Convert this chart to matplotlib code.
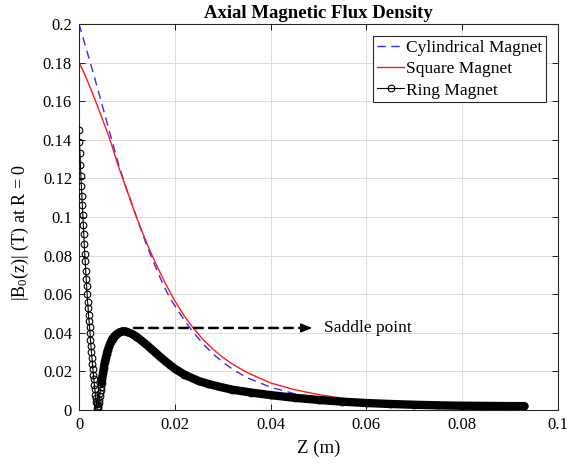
import numpy as np
import matplotlib
matplotlib.use("Agg")
import matplotlib.pyplot as plt

plt.rcParams['font.family'] = ['Liberation Serif', 'DejaVu Serif']
plt.rcParams['mathtext.fontset'] = 'custom'
plt.rcParams['mathtext.rm'] = 'Liberation Serif'
plt.rcParams['mathtext.it'] = 'Liberation Serif:italic'

# Cylindrical magnet
cyl_z = [0.000, 0.001, 0.002, 0.003, 0.004, 0.005, 0.006, 0.007, 0.008, 0.009,
         0.010, 0.011, 0.012, 0.013, 0.014, 0.015, 0.016, 0.017, 0.018, 0.019,
         0.020, 0.022, 0.024, 0.026, 0.028, 0.030, 0.032, 0.035, 0.040, 0.045,
         0.050, 0.055, 0.060, 0.065, 0.070, 0.080, 0.093]
cyl_b = [0.2000, 0.1915, 0.1830, 0.1745, 0.1655, 0.1565, 0.1475, 0.1385, 0.1295, 0.1215,
         0.1140, 0.1070, 0.1000, 0.0930, 0.0862, 0.0800, 0.0740, 0.0682, 0.0628, 0.0580,
         0.0540, 0.0465, 0.0398, 0.0340, 0.0290, 0.0248, 0.0212, 0.0168, 0.0118, 0.0084,
         0.0060, 0.0044, 0.0033, 0.0027, 0.0023, 0.0019, 0.0016]

# Square magnet
sq_z = [0.000, 0.001, 0.002, 0.003, 0.004, 0.005, 0.006, 0.007, 0.008, 0.009,
        0.010, 0.011, 0.012, 0.013, 0.014, 0.015, 0.016, 0.017, 0.018, 0.019,
        0.020, 0.022, 0.024, 0.026, 0.028, 0.030, 0.032, 0.035, 0.040, 0.045,
        0.050, 0.055, 0.060, 0.065, 0.070, 0.080, 0.093]
sq_b = [0.1800, 0.1750, 0.1690, 0.1630, 0.1565, 0.1500, 0.1433, 0.1360, 0.1280, 0.1208,
        0.1138, 0.1068, 0.1000, 0.0935, 0.0873, 0.0815, 0.0760, 0.0708, 0.0658, 0.0610,
        0.0566, 0.0486, 0.0420, 0.0362, 0.0315, 0.0273, 0.0238, 0.0195, 0.0140, 0.0105,
        0.0080, 0.0060, 0.0045, 0.0036, 0.0030, 0.0023, 0.0019]

# Ring magnet
ring_z = [0.0000, 0.0001, 0.0002, 0.0003, 0.0004, 0.0005, 0.0006, 0.0007, 0.0008, 0.0009,
          0.0010, 0.0011, 0.0012, 0.0013, 0.0014, 0.0015, 0.0016, 0.0017, 0.0018, 0.0019,
          0.0020, 0.0021, 0.0022, 0.0023, 0.0024, 0.0025, 0.0026, 0.0027, 0.0028, 0.0029,
          0.0030, 0.0031, 0.0032, 0.0033, 0.0034, 0.0035, 0.0036, 0.0037, 0.0038, 0.0039,
          0.0040, 0.0041, 0.0042, 0.0043, 0.0044, 0.0045, 0.0046, 0.0047, 0.0048, 0.0049,
          0.0050, 0.0052, 0.0054, 0.0056, 0.0058, 0.0060, 0.0063, 0.0066, 0.0070, 0.0075,
          0.0080, 0.0085, 0.0090, 0.0095, 0.0100, 0.0110, 0.0120, 0.0130, 0.0140, 0.0150,
          0.0160, 0.0170, 0.0180, 0.0190, 0.0200, 0.0220, 0.0250, 0.0270, 0.0290, 0.0320,
          0.0360, 0.0400, 0.0450, 0.0500, 0.0550, 0.0600, 0.0650, 0.0700, 0.0750, 0.0800,
          0.0850, 0.0900, 0.0930]
ring_b = [0.145, 0.139, 0.133, 0.127, 0.121, 0.116, 0.111, 0.106, 0.101, 0.096,
          0.091, 0.086, 0.081, 0.077, 0.072, 0.068, 0.064, 0.060, 0.056, 0.053,
          0.049, 0.046, 0.043, 0.040, 0.036, 0.033, 0.030, 0.027, 0.024, 0.021,
          0.018, 0.016, 0.013, 0.011, 0.008, 0.006, 0.004, 0.003, 0.001, 0.001,
          0.002, 0.0035, 0.005, 0.007, 0.009, 0.0105, 0.012, 0.014, 0.016, 0.0175,
          0.019, 0.022, 0.025, 0.027, 0.029, 0.031, 0.033, 0.035, 0.037, 0.0385,
          0.0395, 0.0403, 0.0407, 0.0408, 0.0405, 0.0395, 0.038, 0.036, 0.034, 0.0318,
          0.0296, 0.0274, 0.0253, 0.0233, 0.0214, 0.0183, 0.0150, 0.0135, 0.0122, 0.0105,
          0.0090, 0.0077, 0.0063, 0.0052, 0.0043, 0.0036, 0.0031, 0.0027, 0.0024, 0.0022,
          0.0021, 0.0020, 0.0020]

# annotation
arrow_start = (0.0115, 0.0425)
arrow_end = (0.0487, 0.0425)
label_pos = (0.0512, 0.0425)

fig = plt.figure(figsize=(5.7, 4.68), dpi=100)
ax = fig.add_axes([0.1386, 0.124, 0.8404, 0.8247])

ax.plot(cyl_z, cyl_b, '--', color='#3030f0', lw=1.0, dashes=(6, 4), label='Cylindrical Magnet')
ax.plot(sq_z, sq_b, '-', color='#ff1a1a', lw=1.0, label='Square Magnet')

rz = np.array(ring_z)
rb = np.array(ring_b)
tail = rz >= 0.0047
ax.plot(rz[tail], rb[tail], '-', color='k', lw=6.0, solid_capstyle='round', zorder=3)
ax.plot(rz, rb, '-o', color='k', lw=0.8, markersize=4.8, markerfacecolor='none',
        markeredgewidth=0.8, label='Ring Magnet', zorder=4)

# dashed shaft + solid head
ax.annotate('', xy=(arrow_end[0] - 0.001, arrow_end[1]), xytext=arrow_start,
            arrowprops=dict(arrowstyle='-', linestyle=(0, (3.5, 2.5)), lw=1.8, color='k',
                            shrinkA=0, shrinkB=0))
ax.annotate('', xy=arrow_end, xytext=(arrow_end[0] - 0.0025, arrow_end[1]),
            arrowprops=dict(arrowstyle='-|>,head_length=0.7,head_width=0.28', lw=1.0,
                            color='k', shrinkA=0, shrinkB=0))
ax.text(label_pos[0], label_pos[1], 'Saddle point', fontsize=12.5, va='center', ha='left')

ax.set_xlim(0, 0.1)
ax.set_ylim(0, 0.2)
xt = [0, 0.02, 0.04, 0.06, 0.08, 0.1]
yt = [0, 0.02, 0.04, 0.06, 0.08, 0.1, 0.12, 0.14, 0.16, 0.18, 0.2]
ax.set_xticks(xt)
ax.set_xticklabels(['0', '0.02', '0.04', '0.06', '0.08', '0.1'])
ax.set_yticks(yt)
ax.set_yticklabels(['0', '0.02', '0.04', '0.06', '0.08', '0.1', '0.12', '0.14', '0.16', '0.18', '0.2'])
ax.tick_params(direction='in', top=True, right=True, length=4, width=0.6, labelsize=12, pad=5)
ax.grid(True, color='#dcdcdc', lw=0.7)
ax.set_axisbelow(True)
for s in ax.spines.values():
    s.set_linewidth(0.8)
    s.set_color('#262626')

ax.set_xlabel('Z (m)', fontsize=13.5, labelpad=5)
ax.set_ylabel(r'|$\mathrm{B}_0$(z)| (T) at R = 0', fontsize=13, labelpad=3)
ax.yaxis.set_label_coords(-0.1, 0.46)
ax.set_title('Axial Magnetic Flux Density', fontsize=13.5, fontweight='bold', pad=4)

leg = ax.legend(loc='upper right', fontsize=12.5, fancybox=False, edgecolor='#262626',
                framealpha=1, borderpad=0.2, labelspacing=0.3, handlelength=1.6,
                handletextpad=0.1, borderaxespad=0.7)
leg.get_frame().set_linewidth(0.8)

fig.savefig('out.png', dpi=100)
